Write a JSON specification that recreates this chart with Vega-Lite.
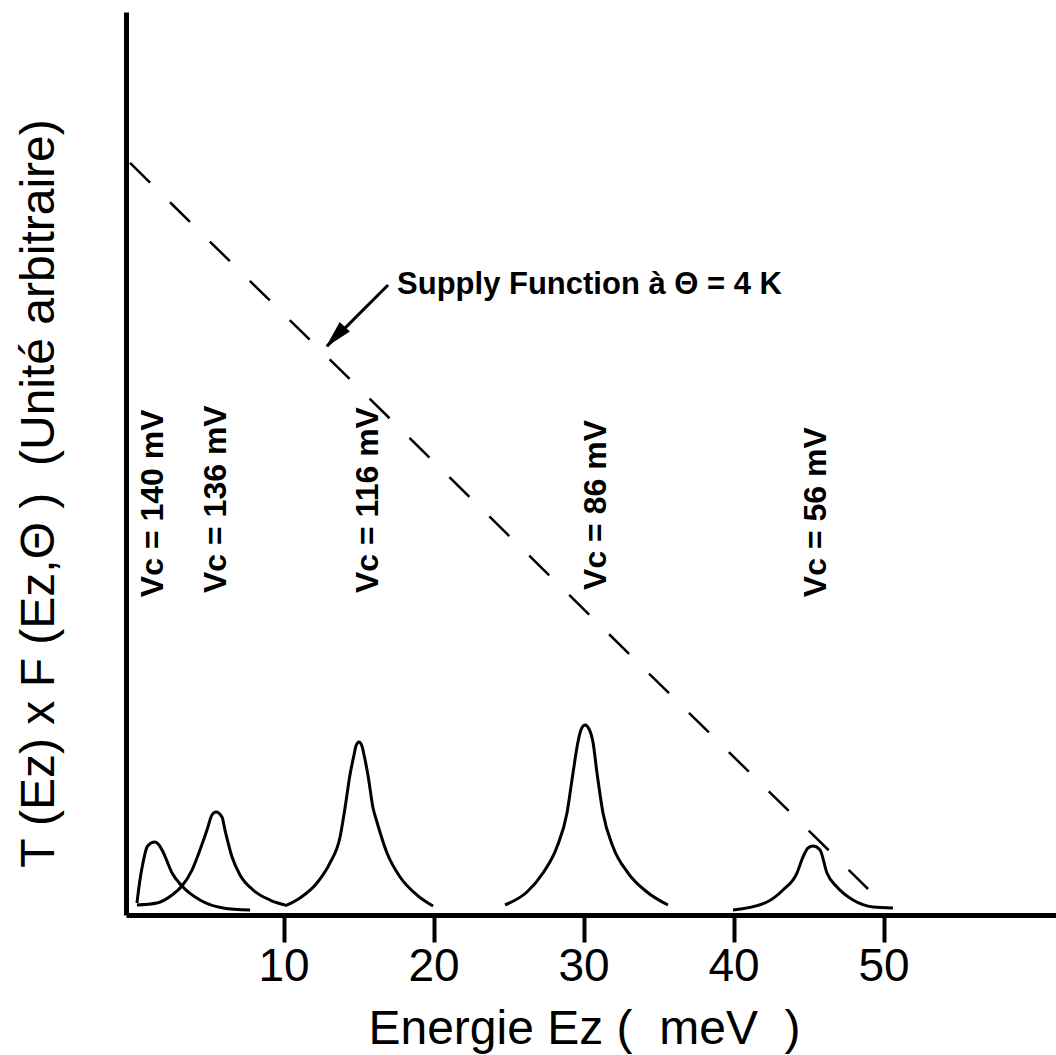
{
  "$schema": "https://vega.github.io/schema/vega-lite/v6.json",
  "autosize": {"type": "none"},
  "padding": {"left": 126, "top": 12, "right": 0, "bottom": 140},
  "width": 930,
  "height": 903,
  "background": "white",
  "config": {
    "view": {"stroke": null},
    "font": "Liberation Sans"
  },
  "datasets": {
    "peaks": [
      {"series": "140", "x": 0.23, "y": 1.33},
      {"series": "140", "x": 0.43, "y": 3.88},
      {"series": "140", "x": 0.63, "y": 5.76},
      {"series": "140", "x": 0.9, "y": 7.53},
      {"series": "140", "x": 1.17, "y": 7.97},
      {"series": "140", "x": 1.43, "y": 8.08},
      {"series": "140", "x": 1.7, "y": 7.75},
      {"series": "140", "x": 1.97, "y": 6.98},
      {"series": "140", "x": 2.57, "y": 4.65},
      {"series": "140", "x": 3.23, "y": 3.21},
      {"series": "140", "x": 4.43, "y": 1.66},
      {"series": "140", "x": 5.97, "y": 0.78},
      {"series": "140", "x": 7.77, "y": 0.55},
      {"series": "136", "x": 0.23, "y": 1.11},
      {"series": "136", "x": 1.57, "y": 1.33},
      {"series": "136", "x": 2.57, "y": 2.21},
      {"series": "136", "x": 3.23, "y": 3.21},
      {"series": "136", "x": 3.9, "y": 4.98},
      {"series": "136", "x": 4.43, "y": 7.2},
      {"series": "136", "x": 4.9, "y": 9.41},
      {"series": "136", "x": 5.23, "y": 11.07},
      {"series": "136", "x": 5.5, "y": 11.41},
      {"series": "136", "x": 5.9, "y": 10.85},
      {"series": "136", "x": 6.1, "y": 9.41},
      {"series": "136", "x": 6.57, "y": 6.42},
      {"series": "136", "x": 7.1, "y": 4.43},
      {"series": "136", "x": 7.97, "y": 2.77},
      {"series": "136", "x": 9.1, "y": 1.66},
      {"series": "136", "x": 10.1, "y": 1.11},
      {"series": "116", "x": 10.1, "y": 1.0},
      {"series": "116", "x": 11.1, "y": 1.88},
      {"series": "116", "x": 12.23, "y": 3.54},
      {"series": "116", "x": 13.1, "y": 5.76},
      {"series": "116", "x": 13.77, "y": 8.64},
      {"series": "116", "x": 14.1, "y": 11.85},
      {"series": "116", "x": 14.43, "y": 15.5},
      {"series": "116", "x": 14.7, "y": 17.72},
      {"series": "116", "x": 14.83, "y": 18.72},
      {"series": "116", "x": 15.03, "y": 19.16},
      {"series": "116", "x": 15.23, "y": 18.72},
      {"series": "116", "x": 15.37, "y": 17.72},
      {"series": "116", "x": 15.63, "y": 15.5},
      {"series": "116", "x": 15.97, "y": 11.85},
      {"series": "116", "x": 16.23, "y": 10.3},
      {"series": "116", "x": 16.9, "y": 6.87},
      {"series": "116", "x": 17.77, "y": 4.21},
      {"series": "116", "x": 18.9, "y": 2.21},
      {"series": "116", "x": 19.97, "y": 1.0},
      {"series": "86", "x": 24.77, "y": 1.11},
      {"series": "86", "x": 26.23, "y": 2.55},
      {"series": "86", "x": 27.3, "y": 4.65},
      {"series": "86", "x": 28.23, "y": 7.53},
      {"series": "86", "x": 28.9, "y": 11.3},
      {"series": "86", "x": 29.3, "y": 15.73},
      {"series": "86", "x": 29.63, "y": 19.16},
      {"series": "86", "x": 29.83, "y": 20.49},
      {"series": "86", "x": 30.1, "y": 21.04},
      {"series": "86", "x": 30.37, "y": 20.6},
      {"series": "86", "x": 30.63, "y": 19.16},
      {"series": "86", "x": 30.9, "y": 15.73},
      {"series": "86", "x": 31.3, "y": 11.3},
      {"series": "86", "x": 31.97, "y": 7.53},
      {"series": "86", "x": 32.97, "y": 4.65},
      {"series": "86", "x": 34.23, "y": 2.55},
      {"series": "86", "x": 35.63, "y": 1.11},
      {"series": "56", "x": 39.97, "y": 0.55},
      {"series": "56", "x": 42.23, "y": 1.44},
      {"series": "56", "x": 43.3, "y": 2.77},
      {"series": "56", "x": 44.23, "y": 4.65},
      {"series": "56", "x": 44.63, "y": 6.42},
      {"series": "56", "x": 44.97, "y": 7.42},
      {"series": "56", "x": 45.3, "y": 7.64},
      {"series": "56", "x": 45.77, "y": 7.2},
      {"series": "56", "x": 46.23, "y": 4.65},
      {"series": "56", "x": 46.9, "y": 3.1},
      {"series": "56", "x": 47.97, "y": 1.66},
      {"series": "56", "x": 49.3, "y": 0.89},
      {"series": "56", "x": 50.63, "y": 0.78}
    ],
    "supply": [
      {"x": -0.23, "y": 83.28},
      {"x": 48.97, "y": 2.88}
    ],
    "arrow": [
      {"x": 16.97, "y": 69.77},
      {"x": 12.9, "y": 63.0}
    ],
    "arrowhead": [
      {"x": 13.45, "y": 64.0}
    ],
    "vclabels": [
      {"x": 1.3, "y": 35.2, "label": "Vc = 140 mV"},
      {"x": 5.5, "y": 35.66, "label": "Vc = 136 mV"},
      {"x": 15.63, "y": 35.66, "label": "Vc = 116 mV"},
      {"x": 30.83, "y": 36.0, "label": "Vc = 86 mV"},
      {"x": 45.5, "y": 35.2, "label": "Vc = 56 mV"}
    ],
    "annot": [
      {"x": 17.57, "y": 69.77, "label": "Supply Function à Θ = 4 K"}
    ]
  },
  "encoding": {
    "x": {
      "field": "x",
      "type": "quantitative",
      "scale": {"domain": [-0.5, 61.5], "nice": false, "zero": false},
      "axis": {
        "orient": "bottom",
        "grid": false,
        "ticks": true,
        "values": [10, 20, 30, 40, 50],
        "format": "d",
        "domainColor": "black",
        "domainWidth": 5,
        "tickColor": "black",
        "tickOpacity": 1,
        "tickWidth": 4,
        "tickSize": 27,
        "labelFont": "Liberation Sans",
        "labelFontSize": 46,
        "labelColor": "black",
        "labelPadding": 2,
        "labelFlush": false,
        "labelOverlap": false,
        "title": "Energie Ez\u00a0(\u00a0\u00a0meV\u00a0\u00a0)",
        "titleFont": "Liberation Sans",
        "titleFontSize": 48,
        "titleFontWeight": "normal",
        "titleColor": "black",
        "titleX": 458,
        "titleY": 128,
        "titleAlign": "center",
        "titleBaseline": "alphabetic"
      }
    },
    "y": {
      "field": "y",
      "type": "quantitative",
      "scale": {"domain": [0, 100], "nice": false, "zero": false},
      "axis": {
        "orient": "left",
        "grid": false,
        "ticks": false,
        "labels": false,
        "domainColor": "black",
        "domainWidth": 5,
        "title": "T (Ez) x F (Ez,Θ )\u00a0\u00a0(Unité arbitraire)",
        "titleFont": "Liberation Sans",
        "titleFontSize": 48,
        "titleFontWeight": "normal",
        "titleColor": "black",
        "titleAngle": 270,
        "titleX": -73,
        "titleY": 481,
        "titleAlign": "center",
        "titleBaseline": "alphabetic"
      }
    }
  },
  "layer": [
    {
      "data": {"name": "peaks"},
      "mark": {"type": "line", "color": "black", "strokeWidth": 3, "interpolate": "monotone"},
      "encoding": {"detail": {"field": "series", "type": "nominal"}}
    },
    {
      "data": {"name": "supply"},
      "mark": {"type": "line", "color": "black", "strokeWidth": 2.5, "strokeDash": [28, 28]},
      "encoding": {}
    },
    {
      "data": {"name": "arrow"},
      "mark": {"type": "line", "color": "black", "strokeWidth": 3},
      "encoding": {}
    },
    {
      "data": {"name": "arrowhead"},
      "mark": {"type": "point", "shape": "M0,-1L0.5,1L-0.5,1Z", "filled": true, "color": "black", "opacity": 1, "size": 784, "angle": 223},
      "encoding": {}
    },
    {
      "data": {"name": "vclabels"},
      "mark": {"type": "text", "angle": 270, "align": "left", "baseline": "middle", "font": "Liberation Sans", "fontWeight": "bold", "fontSize": 32, "color": "black"},
      "encoding": {"text": {"field": "label", "type": "nominal"}}
    },
    {
      "data": {"name": "annot"},
      "mark": {"type": "text", "align": "left", "baseline": "middle", "font": "Liberation Sans", "fontWeight": "bold", "fontSize": 31, "color": "black"},
      "encoding": {"text": {"field": "label", "type": "nominal"}}
    }
  ]
}
